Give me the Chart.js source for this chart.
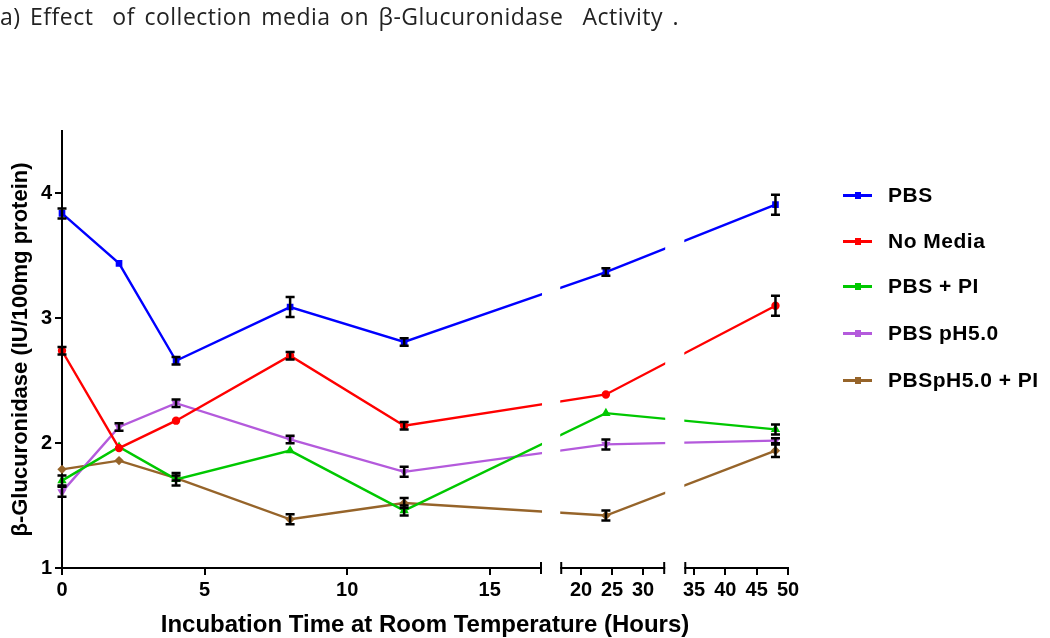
<!DOCTYPE html>
<html lang="en">
<head>
<meta charset="UTF-8">
<title>Effect of collection media on β-Glucuronidase Activity</title>
<script src="https://cdn.jsdelivr.net/npm/chart.js"></script>
<style>
    html, body { margin: 0; padding: 0; background: #fff; }
    #wrap { position: relative; width: 1050px; height: 638px; overflow: hidden; }
    canvas { position: absolute; left: 0; top: 0; }
    #title {
        position: absolute; left: 0; top: 0;
        font-family: "Open Sans", sans-serif; font-size: 23px; color: #222;
        letter-spacing: 0.5px; word-spacing: 3px;
        white-space: pre;
    }
    #legend {
        position: absolute; left: 843px; top: 0;
        font-family: "Liberation Sans", Arial, sans-serif; font-weight: bold; font-size: 21px; color: #000;
        letter-spacing: 0.5px;
    }
    .item { position: absolute; left: 0; height: 24px; display: flex; align-items: center; white-space: nowrap; }
    .swatch { position: relative; width: 29px; height: 3px; }
    .swatch span { position: absolute; left: 12px; top: -2px; width: 6px; height: 7px; }
    .label { margin-left: 16px; }
</style>
</head>
<body>
<div id="wrap">
    <canvas id="chart" width="1050" height="638"></canvas>
    <div id="title">a) Effect  of collection media on β-Glucuronidase  Activity .</div>
    <div id="legend"></div>
</div>

<script>
    // time points (hours) and measured activity
    const hours = [0, 2, 4, 8, 12, 24, 48];
    const seriesNames = ['PBS', 'No Media', 'PBS + PI', 'PBS pH5.0', 'PBSpH5.0 + PI'];
    const pbs      = [3.84, 3.44, 2.66, 3.09, 2.81, 3.37, 3.91];
    const noMedia  = [2.74, 1.96, 2.18, 2.70, 2.14, 2.39, 3.10];
    const pbsPI    = [1.70, 1.97, 1.71, 1.94, 1.46, 2.24, 2.11];
    const pbsPH5   = [1.61, 2.13, 2.32, 2.03, 1.77, 1.99, 2.02];
    const pbsPH5PI = [1.79, 1.86, 1.72, 1.39, 1.52, 1.42, 1.94];
    // error bars (SEM)
    const pbsErr      = [0.04, 0.01, 0.03, 0.08, 0.03, 0.03, 0.08];
    const noMediaErr  = [0.03, 0.01, 0.01, 0.03, 0.03, 0.01, 0.08];
    const pbsPIErr    = [0.04, 0.01, 0.05, 0.01, 0.04, 0.01, 0.04];
    const pbsPH5Err   = [0.04, 0.03, 0.03, 0.03, 0.04, 0.04, 0.02];
    const pbsPH5PIErr = [0.01, 0.01, 0.02, 0.04, 0.04, 0.04, 0.05];
    const xTickHours = [0, 5, 10, 15, 20, 25, 30, 35, 40, 45, 50];
    const yTicks = [1, 2, 3, 4];

    const colors = ['#0000ff', '#ff0000', '#00c800', '#b45adc', '#96642a'];
    const markers = ['rect', 'circle', 'triangle', 'triangle', 'rectRot'];
    const markerRot = [0, 0, 0, 180, 0];

    // the hour axis is broken in three pieces with their own scale
    const axisBreaks = [
        { from: 0,    to: 16.8, start: 0,   k: 28.5 },
        { from: 16.8, to: 33.4, start: 499, k: 6.2 },
        { from: 33.6, to: 50,   start: 623, k: 6.26 }
    ];
    function toAxis(h) {
        for (const b of axisBreaks) {
            if (h <= b.to) return b.start + (Math.max(h, b.from) - b.from) * b.k;
        }
        const last = axisBreaks[axisBreaks.length - 1];
        return last.start + (h - last.from) * last.k;
    }

    const allValues = [pbs, noMedia, pbsPI, pbsPH5, pbsPH5PI];
    const allErrors = [pbsErr, noMediaErr, pbsPIErr, pbsPH5Err, pbsPH5PIErr];

    const datasets = allValues.map((vals, i) => ({
        label: seriesNames[i],
        data: vals.map((v, j) => ({ x: toAxis(hours[j]), y: v })),
        borderColor: colors[i],
        backgroundColor: colors[i],
        borderWidth: 2.4,
        pointStyle: markers[i],
        rotation: markerRot[i],
        pointRadius: 3,
        tension: 0,
        clip: false
    }));

    const errorBars = {
        id: 'errorBars',
        afterDatasetsDraw(chart) {
            const { ctx, scales: { x, y } } = chart;
            ctx.save();
            ctx.strokeStyle = '#000';
            ctx.lineWidth = 2.5;
            allValues.forEach((vals, i) => {
                vals.forEach((v, j) => {
                    const e = allErrors[i][j];
                    if (!e || e < 0.02) return;
                    const px = x.getPixelForValue(toAxis(hours[j]));
                    const top = y.getPixelForValue(v + e);
                    const bot = y.getPixelForValue(v - e);
                    ctx.beginPath();
                    ctx.moveTo(px, top); ctx.lineTo(px, bot);
                    ctx.moveTo(px - 4.5, top); ctx.lineTo(px + 4.5, top);
                    ctx.moveTo(px - 4.5, bot); ctx.lineTo(px + 4.5, bot);
                    ctx.stroke();
                });
            });
            ctx.restore();
        }
    };

    const brokenAxis = {
        id: 'brokenAxis',
        afterDraw(chart) {
            const { ctx, chartArea, scales: { x } } = chart;
            ctx.save();
            ctx.strokeStyle = '#000';
            ctx.lineWidth = 2;
            for (let i = 0; i < axisBreaks.length - 1; i++) {
                const a = x.getPixelForValue(toAxis(axisBreaks[i].to));
                const b = x.getPixelForValue(axisBreaks[i + 1].start);
                ctx.fillStyle = '#fff';
                ctx.fillRect(a + 1, chartArea.top - 5, b - a - 2, chartArea.bottom - chartArea.top + 7);
                [a, b].forEach(px => {
                    ctx.beginPath();
                    ctx.moveTo(px, chartArea.bottom - 6);
                    ctx.lineTo(px, chartArea.bottom + 6);
                    ctx.stroke();
                });
            }
            ctx.restore();
        }
    };

    const tickFont = { family: '"Liberation Sans", Arial, sans-serif', size: 20, weight: 'bold' };

    new Chart(document.getElementById('chart'), {
        type: 'line',
        data: { datasets: datasets },
        options: {
            responsive: false,
            animation: false,
            events: [],
            layout: { padding: { top: 131, right: 262, left: 0, bottom: 0 } },
            plugins: {
                legend: { display: false },
                title: { display: false },
                tooltip: { enabled: false }
            },
            scales: {
                x: {
                    type: 'linear',
                    min: 0,
                    max: toAxis(50),
                    afterBuildTicks: s => { s.ticks = xTickHours.map(h => ({ value: toAxis(h) })); },
                    afterFit: s => { s.height = 70; },
                    ticks: {
                        autoSkip: false,
                        maxRotation: 0,
                        padding: 3,
                        color: '#000',
                        font: tickFont,
                        callback: (v, i) => xTickHours[i]
                    },
                    grid: { drawOnChartArea: false, tickLength: 7, color: '#000', lineWidth: 2 },
                    border: { color: '#000', width: 2 },
                    title: {
                        display: true,
                        text: 'Incubation Time at Room Temperature (Hours)',
                        color: '#000',
                        font: { family: '"Liberation Sans", Arial, sans-serif', size: 24, weight: 'bold', lineHeight: 1 },
                        padding: { top: 0, bottom: 1 }
                    }
                },
                y: {
                    min: 1,
                    max: 4.5,
                    afterBuildTicks: s => { s.ticks = yTicks.map(v => ({ value: v })); },
                    afterFit: s => { s.width = 62; },
                    ticks: { color: '#000', font: tickFont, padding: 3 },
                    grid: { drawOnChartArea: false, tickLength: 7, color: '#000', lineWidth: 2 },
                    border: { color: '#000', width: 2 },
                    title: {
                        display: true,
                        text: 'β-Glucuronidase (IU/100mg protein)',
                        color: '#000',
                        font: { family: '"Liberation Sans", Arial, sans-serif', size: 22, weight: 'bold', lineHeight: 1 },
                        padding: { top: 10, bottom: 0 }
                    }
                }
            }
        },
        plugins: [errorBars, brokenAxis]
    });

    // legend on the right
    const legendY = [195, 241, 286, 333, 380];
    const legend = document.getElementById('legend');
    seriesNames.forEach((name, i) => {
        const item = document.createElement('div');
        item.className = 'item';
        item.style.top = (legendY[i] - 12) + 'px';
        item.innerHTML = '<div class="swatch" style="background:' + colors[i] + '"><span style="background:' + colors[i] + '"></span></div>'
            + '<div class="label">' + name + '</div>';
        legend.appendChild(item);
    });
</script>
</body>
</html>
